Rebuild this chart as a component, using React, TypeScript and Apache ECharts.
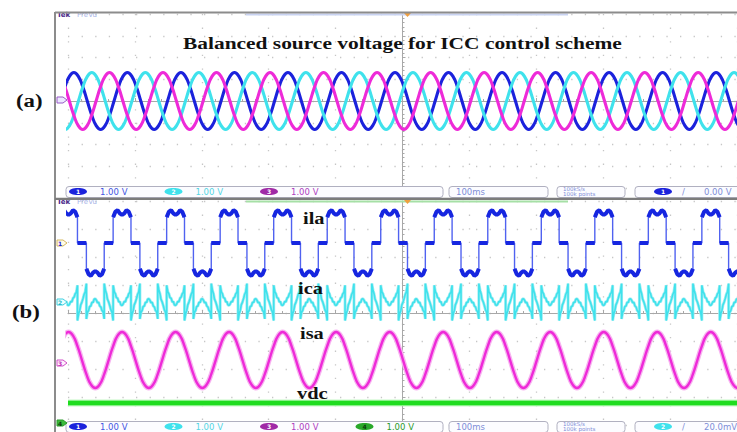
import { useEffect, useRef } from "react";
import * as echarts from "echarts";

// ---- time base ---------------------------------------------------------
const SCREEN_MIN_MS = -125; // trigger point sits at the screen centre
const SCREEN_MAX_MS = 125;
const MS_PER_DIV = 25;
const CYCLE_MS = 20; // 50 Hz mains

// ---- (a) balanced source voltages (1.00 V/div), one cycle every 30° ------
const SRC_PHASE_DEG = [0, 30, 60, 90, 120, 150, 180, 210, 240, 270, 300, 330];
const SRC_CYCLE_V = [1.31, 1.13, 0.65, 0, -0.65, -1.13, -1.31, -1.13, -0.65, 0, 0.65, 1.13];
const SRC_NAMES = ["vsa", "vsb", "vsc"];
const SRC_FIRST_CREST_MS = [-122.8, -116.1, -109.5];

// ---- (b) ch1: load current ila, one cycle from the rising edge ----------
const ILA_PHASE_DEG = [-60, -60, -45, -30, -15, 0, 15, 30, 45, 60, 60, 120, 120, 135, 150, 165, 180, 195, 210, 225, 240, 240, 300];
const ILA_CYCLE_V = [0, 0.92, 1.12, 1.17, 1.06, 1.0, 1.06, 1.17, 1.12, 0.92, 0, 0, -0.92, -1.12, -1.17, -1.06, -1.0, -1.06, -1.17, -1.12, -0.92, 0, 0];

// ---- (b) ch2: compensating current ica -----------------------------------
const ICA_PHASE_DEG = [-60, -60, -52, -45, -38, -30, -22, -15, -8, 0, 8, 15, 22, 30, 38, 45, 52, 60, 60, 68, 75, 82, 90, 98, 105, 112, 120, 120, 128, 135, 142, 150, 158, 165, 172, 180, 188, 195, 202, 210, 218, 225, 232, 240, 240, 248, 255, 262, 270, 278, 285, 292, 300];
const ICA_CYCLE_V = [-0.66, 0.6, 0.36, 0.3, 0.16, 0.14, 0.0, 0.02, -0.1, -0.12, -0.06, 0.03, 0.0, 0.14, 0.18, 0.3, 0.34, 0.6, -0.66, -0.42, -0.3, -0.1, 0.0, 0.14, 0.28, 0.36, 0.66, -0.6, -0.36, -0.3, -0.16, -0.14, 0.0, -0.02, 0.1, 0.12, 0.06, -0.03, 0.0, -0.14, -0.18, -0.3, -0.34, -0.6, 0.66, 0.42, 0.3, 0.1, 0.0, -0.14, -0.28, -0.36, -0.66];

// ---- (b) ch3: source current isa ------------------------------------------
const ISA_PHASE_DEG = [0, 30, 60, 90, 120, 150, 180, 210, 240, 270, 300, 330];
const ISA_CYCLE_V = [1.0, 0.87, 0.5, 0, -0.5, -0.87, -1.0, -0.87, -0.5, 0, 0.5, 0.87];
const LOAD_FIRST_CREST_MS = -124.8;

// ---- (b) ch4: dc-link voltage vdc -----------------------------------------
const VDC_LEVEL_V = 0.72;

// ---- channel settings shown in the status bars -----------------------------
const SCALE_A = ["1.00 V", "1.00 V", "1.00 V"];
const SCALE_B = ["1.00 V", "1.00 V", "1.00 V", "1.00 V"];
const TIMEBASE_TEXT = "100ms";
const RATE_TEXT = ["100kS/s", "100k points"];
const TRIGGER_A = "0.00 V";
const TRIGGER_B = "20.0mV";

// ground offset of each channel on screen (b), in divisions above centre
const CH_POS_DIV = [2.5, 0.39, -1.68, -3.93];

type Pt = [number, number | string];

// Repeat one measured cycle across the whole record.
function tileCycles(phaseDeg: number[], values: number[], firstCrestMs: number, breakEdges = false): Pt[] {
  const pts: Pt[] = [];
  for (let start = firstCrestMs - CYCLE_MS; start < SCREEN_MAX_MS + CYCLE_MS; start += CYCLE_MS) {
    for (let i = 0; i < phaseDeg.length; i++) {
      const t = start + (phaseDeg[i] / 360) * CYCLE_MS;
      if (breakEdges && i > 0 && phaseDeg[i] === phaseDeg[i - 1]) pts.push([t, "-"]);
      pts.push([t, values[i]]);
    }
  }
  return pts;
}

const BLUE = "#1b22dc";
const CYAN = "#3fe2ec";
const MAGENTA = "#ee2ad8";
const GREEN = "#1fdc1f";
const SERIF = '"Liberation Serif", "Times New Roman", serif';
const SANS = '"DejaVu Sans", sans-serif';

function chip(cx: number, cy: number, fill: string, num: string, numColor = "#ffffff") {
  return [
    { type: "ellipse", z: 30, shape: { cx, cy, rx: 9, ry: 3.6 }, style: { fill } },
    { type: "text", z: 31, x: cx, y: cy, style: { text: num, fill: numColor, font: `bold 6px ${SANS}`, align: "center", verticalAlign: "middle" } },
  ];
}

function box(x: number, y: number, w: number, h: number) {
  return { type: "rect", z: 25, shape: { x, y, width: w, height: h, r: 3 }, style: { fill: "#fcfcff", stroke: "#b0b0c0", lineWidth: 1 } };
}

function small(x: number, y: number, text: string, fill: string, size = 8.5, lineHeight?: number) {
  return { type: "text", z: 31, x, y, style: { text, fill, font: `${size}px ${SANS}`, verticalAlign: "middle", lineHeight } };
}

function groundMarker(y: number, stroke: string, fill: string, num: string, numColor: string) {
  return [
    { type: "polygon", z: 30, shape: { points: [[57, y - 3], [63, y - 3], [67, y], [63, y + 3], [57, y + 3]] }, style: { fill, stroke, lineWidth: 1 } },
    { type: "text", z: 31, x: 60, y, style: { text: num, fill: numColor, font: `bold 6px ${SANS}`, align: "center", verticalAlign: "middle" } },
  ];
}

function statusBar(y: number, chans: { color: string; num: string; text: string; textColor: string; numColor?: string }[], trigChip: { color: string; num: string }, trigText: string) {
  const els: any[] = [box(66, y - 5, 377, 11)];
  chans.forEach((c, i) => {
    const cx = 78 + i * 95.5;
    els.push(...chip(cx, y, c.color, c.num, c.numColor));
    els.push(small(cx + 22, y, c.text, c.textColor));
  });
  els.push(box(449, y - 5, 99, 11), small(456, y, TIMEBASE_TEXT, "#7f8ed8"));
  els.push(box(557, y - 5, 68, 11));
  els.push(small(563, y + 0.3, RATE_TEXT.join("\n"), "#7f8ed8", 5.5, 5.2));
  els.push(box(635, y - 5, 110, 11));
  els.push(...chip(663, y, trigChip.color, trigChip.num));
  els.push(small(682, y, "/", "#7f8ed8"), small(704, y, trigText, "#7f8ed8"));
  return els;
}

function headerStrip(y: number, barColor: string) {
  return [
    { type: "text", z: 31, x: 57, y, style: { text: "Tek", fill: "#4a2a8a", font: `bold 7px ${SANS}`, verticalAlign: "middle" } },
    { type: "text", z: 31, x: 77, y, style: { text: "PreVu", fill: "#a8b4e8", font: `7px ${SANS}`, verticalAlign: "middle" } },
    { type: "rect", z: 30, shape: { x: 246, y: y - 1.5, width: 322, height: 2 }, style: { fill: barColor } },
    { type: "polygon", z: 31, shape: { points: [[404, y - 2], [411, y - 2], [407.5, y + 2]] }, style: { fill: "#f0a040" } },
  ];
}

function boldLabel(x: number, y: number, text: string, size = 17, scaleX = 1.2) {
  return { type: "text", z: 40, x, y, scaleX, style: { text, fill: "#111111", font: `bold ${size}px ${SERIF}`, verticalAlign: "middle" } };
}

export default function App() {
  const ref = useRef<HTMLDivElement>(null);

  useEffect(() => {
    if (!ref.current) return;
    const chart = echarts.init(ref.current, undefined, { renderer: "svg" });

    const dotted = { color: "#c6c6c6", width: 1.3, type: [1.3, 12.3] as any };
    const centreLine = { show: true, onZero: true, lineStyle: { color: "#a8a8a8", width: 1 } };
    const xAxisBase = {
      type: "value",
      min: SCREEN_MIN_MS,
      max: SCREEN_MAX_MS,
      interval: MS_PER_DIV,
      axisLabel: { show: false },
      axisTick: { show: true, inside: true, length: 3, lineStyle: { color: "#a8a8a8" } },
      minorTick: { show: true, splitNumber: 5, length: 2, lineStyle: { color: "#a8a8a8" } },
      splitLine: { show: true, lineStyle: dotted },
      axisLine: centreLine,
    };
    const yGridBase = {
      type: "value",
      min: -4,
      max: 4,
      interval: 1,
      axisLabel: { show: false },
      axisTick: { show: true, inside: true, length: 3, lineStyle: { color: "#a8a8a8" } },
      minorTick: { show: true, splitNumber: 5, length: 2, lineStyle: { color: "#a8a8a8" } },
      splitLine: { show: true, lineStyle: dotted },
      axisLine: centreLine,
    };
    const chanAxis = (pos: number) => ({ type: "value", gridIndex: 1, min: -4 - pos, max: 4 - pos, show: false, splitLine: { show: false } });

    const line = (name: string, data: Pt[], color: string, width: number, yAxisIndex: number, xAxisIndex: number, extra: any = {}) => ({
      type: "line",
      name,
      data,
      xAxisIndex,
      yAxisIndex,
      showSymbol: false,
      symbol: "none",
      clip: true,
      lineStyle: { color, width },
      smooth: extra.smooth ?? false,
      connectNulls: false,
      silent: true,
      z: extra.z ?? 2,
    });

    const srcColors = [BLUE, CYAN, MAGENTA];
    const srcSeries = [2, 1, 0].map((i) =>
      line(SRC_NAMES[i], tileCycles(SRC_PHASE_DEG, SRC_CYCLE_V, SRC_FIRST_CREST_MS[i]), srcColors[i], 3.1, 0, 0, { smooth: 0.5, z: 3 + i })
    );

    const ila = tileCycles(ILA_PHASE_DEG, ILA_CYCLE_V, LOAD_FIRST_CREST_MS);
    const ilaFlats = tileCycles(ILA_PHASE_DEG, ILA_CYCLE_V, LOAD_FIRST_CREST_MS, true);
    const ica = tileCycles(ICA_PHASE_DEG, ICA_CYCLE_V, LOAD_FIRST_CREST_MS);
    const isa = tileCycles(ISA_PHASE_DEG, ISA_CYCLE_V, LOAD_FIRST_CREST_MS);
    const vdc: Pt[] = [[SCREEN_MIN_MS, VDC_LEVEL_V], [SCREEN_MAX_MS, VDC_LEVEL_V]];

    const graphics: any[] = [
      // scope bezels
      { type: "line", z: 50, shape: { x1: 55, y1: 12.5, x2: 737, y2: 12.5 }, style: { stroke: "#8c8c8c", lineWidth: 2 } },
      { type: "line", z: 50, shape: { x1: 55, y1: 12, x2: 55, y2: 432 }, style: { stroke: "#8c8c8c", lineWidth: 2 } },
      { type: "line", z: 50, shape: { x1: 55, y1: 198.8, x2: 737, y2: 198.8 }, style: { stroke: "#7c7c7c", lineWidth: 2.2 } },
      ...headerStrip(15, "#c9d3f2"),
      ...headerStrip(202, "#a6e0a6"),
      ...groundMarker(100, "#9a5ac8", "#ece8ff", "", "#9a5ac8"),
      ...groundMarker(243, "#d4b860", "#fffbe8", "1", BLUE),
      ...groundMarker(302, "#3fd0e0", "#eaffff", "2", "#20b8c8"),
      ...groundMarker(363, "#d050c8", "#ffeefc", "3", "#c030b8"),
      ...groundMarker(423, "#2a9a2a", "#3cbc3c", "4", "#0a3a0a"),
      ...statusBar(191.5, [
        { color: BLUE, num: "1", text: SCALE_A[0], textColor: "#4456e2" },
        { color: CYAN, num: "2", text: SCALE_A[1], textColor: "#54d6e4" },
        { color: "#a02aa6", num: "3", text: SCALE_A[2], textColor: "#b040c0" },
      ], { color: BLUE, num: "1" }, TRIGGER_A),
      ...statusBar(426.5, [
        { color: BLUE, num: "1", text: SCALE_B[0], textColor: "#4456e2" },
        { color: CYAN, num: "2", text: SCALE_B[1], textColor: "#54d6e4" },
        { color: "#a02aa6", num: "3", text: SCALE_B[2], textColor: "#b040c0" },
        { color: "#2aa82a", num: "4", text: SCALE_B[3], textColor: "#2a9a2a", numColor: "#0a3a0a" },
      ], { color: CYAN, num: "2" }, TRIGGER_B),
      boldLabel(183, 43, "Balanced source voltage for ICC control scheme", 17, 1.26),
      boldLabel(16, 100.5, "(a)", 19),
      boldLabel(12, 312, "(b)", 19),
      boldLabel(303, 218, "ila"),
      boldLabel(298, 288, "ica"),
      boldLabel(300, 333, "isa"),
      boldLabel(297, 393.5, "vdc"),
    ];

    chart.setOption({
      animation: false,
      backgroundColor: "#ffffff",
      grid: [
        { left: 68, top: 14, width: 680, height: 174 },
        { left: 68, top: 201, width: 680, height: 224 },
      ],
      xAxis: [
        { ...xAxisBase, gridIndex: 0, axisLine: { ...centreLine, onZeroAxisIndex: 0 } },
        { ...xAxisBase, gridIndex: 1, axisLine: { ...centreLine, onZeroAxisIndex: 1 } },
      ],
      yAxis: [
        { ...yGridBase, gridIndex: 0 },
        { ...yGridBase, gridIndex: 1 },
        ...CH_POS_DIV.map(chanAxis),
      ],
      series: [
        ...srcSeries,
        line("ila", ila, "#5062f0", 1.4, 2, 1),
        line("ila", ilaFlats, "#1626e0", 4, 2, 1, { z: 4 }),
        line("ica", ica, "#a6eef3", 3, 3, 1, { z: 2 }),
        line("ica", ica, CYAN, 1.6, 3, 1, { z: 3 }),
        line("isa", isa, "#f7b4f0", 5, 4, 1, { smooth: 0.5, z: 2 }),
        line("isa", isa, MAGENTA, 2.4, 4, 1, { smooth: 0.5, z: 3 }),
        line("vdc", vdc, "#8af08a", 6.5, 5, 1, { z: 2 }),
        line("vdc", vdc, GREEN, 4, 5, 1, { z: 3 }),
      ],
      graphic: { elements: graphics },
    });

    return () => chart.dispose();
  }, []);

  return <div ref={ref} style={{ position: "fixed", left: 0, top: 0, width: 737, height: 432, background: "#ffffff" }} />;
}
